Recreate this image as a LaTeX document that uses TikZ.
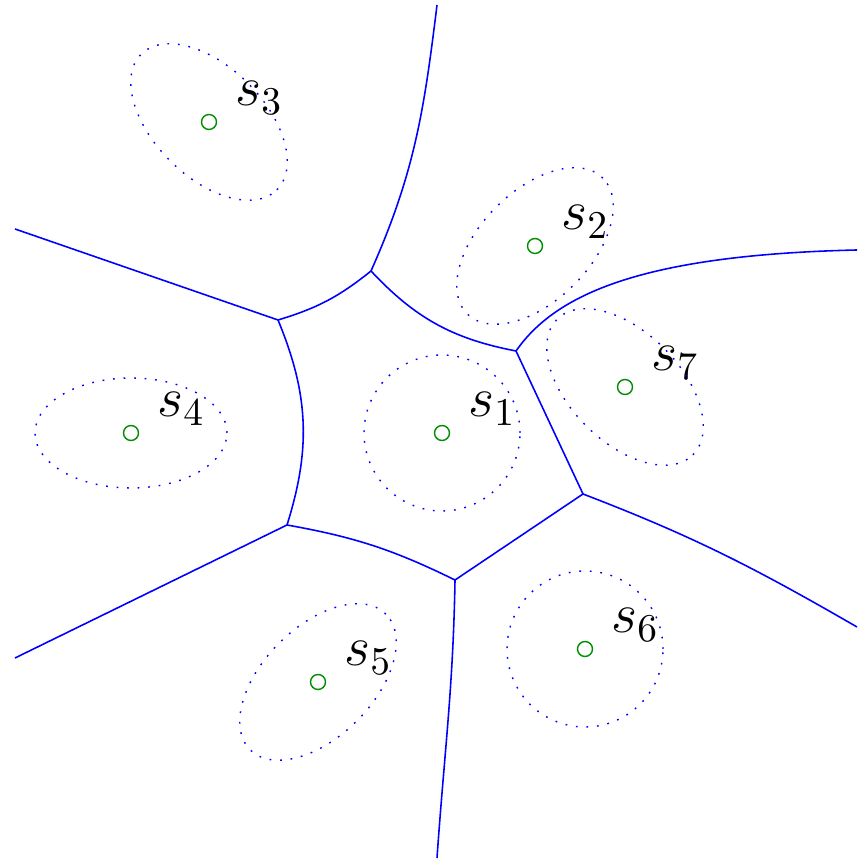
\RequirePackage{fix-cm}
\documentclass[tikz,border=0pt]{standalone}
\usepackage{tikz}
\usetikzlibrary{calc}

\begin{document}
\begin{tikzpicture}[
    site/.style={circle, draw=green!55!black, inner sep=0pt, minimum size=0.15cm},
    lbl/.style={font=\fontsize{16}{19}\selectfont, xshift=0.5cm, yshift=0.24cm},
    cov/.style={blue, line width=0.4pt, dash pattern=on 0.5pt off 2.5pt},
    cell/.style={blue, line width=0.45pt},
  ]
    \useasboundingbox (0,0) rectangle (8.57,8.61);

    % sites
    \node[site] (s1) at (4.42,4.28) {};
    \node[site] (s2) at (5.35,6.15) {};
    \node[site] (s3) at (2.09,7.39) {};
    \node[site] (s4) at (1.31,4.28) {};
    \node[site] (s5) at (3.18,1.79) {};
    \node[site] (s6) at (5.85,2.12) {};
    \node[site] (s7) at (6.25,4.74) {};

    \node[lbl] (l1) at (s1) {$s_1$};
    \node[lbl] (l2) at (s2) {$s_2$};
    \node[lbl] (l3) at (s3) {$s_3$};
    \node[lbl] (l4) at (s4) {$s_4$};
    \node[lbl] (l5) at (s5) {$s_5$};
    \node[lbl] (l6) at (s6) {$s_6$};
    \node[lbl] (l7) at (s7) {$s_7$};

    % unit balls of the sites
    \draw[cov] (s1) circle (0.78);
    \draw[cov, rotate around={45:(s2)}] (s2) ellipse (0.96 and 0.55);
    \draw[cov, rotate around={-45:(s3)}] (s3) ellipse (0.96 and 0.55);
    \draw[cov] (s4) ellipse (0.96 and 0.55);
    \draw[cov, rotate around={45:(s5)}] (s5) ellipse (0.96 and 0.55);
    \draw[cov] (s6) circle (0.78);
    \draw[cov, rotate around={-45:(s7)}] (s7) ellipse (0.96 and 0.55);

    % vertices of the diagram
    \coordinate (A) at (2.78,5.41);
    \coordinate (B) at (3.71,5.90);
    \coordinate (C) at (5.16,5.10);
    \coordinate (D) at (5.83,3.67);
    \coordinate (E) at (4.55,2.81);
    \coordinate (F) at (2.87,3.36);
    % far ends
    \coordinate (N) at (4.37,8.56);
    \coordinate (NW) at (0.15,6.32);
    \coordinate (NE) at (8.57,6.11);
    \coordinate (SE) at (8.57,2.34);
    \coordinate (S) at (4.37,0.03);
    \coordinate (SW) at (0.15,2.03);

    % cell of s1
    \draw[cell] (A) to[bend right=11] (B);
    \draw[cell] (B) to[bend right=18] (C);
    \draw[cell] (C) -- (D) -- (E);
    \draw[cell] (F) to[bend left=8] (E);
    \draw[cell] (F) to[bend right=20] (A);

    % unbounded edges
    \draw[cell] (B) to[out=66, in=-97] (N);
    \draw[cell] (A) -- (NW);
    \draw[cell] (C) .. controls (5.55,5.66) and (6.40,6.06) .. (NE);
    \draw[cell] (D) to[out=-21, in=150] (SE);
    \draw[cell] (E) to[out=-91, in=86] (S);
    \draw[cell] (F) -- (SW);
\end{tikzpicture}
\end{document}
